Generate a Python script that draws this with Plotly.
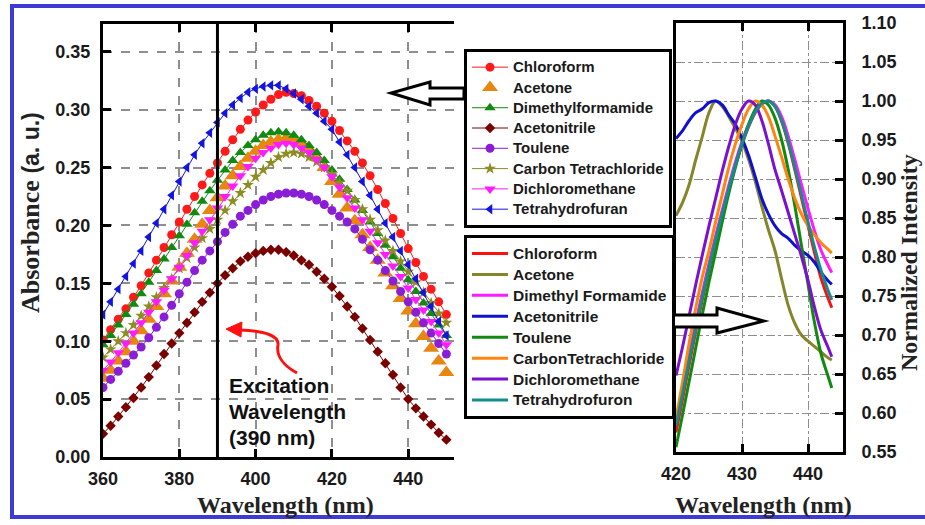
import plotly.graph_objects as go

# Canvas size in pixels; shapes and labels are placed with pixel helpers
W, H = 925, 525


def px(x):
    return x / W


def py(y):
    return 1 - y / H


ARIAL = "Liberation Sans, Arial, sans-serif"
TIMES = "Liberation Serif, Times New Roman, serif"

# ---------------- Absorbance spectra (left panel) ----------------
wavelength_abs = [360, 362, 364, 366, 368, 370, 372, 374, 376, 378,
                  380, 382, 384, 386, 388, 390, 392, 394, 396, 398,
                  400, 402, 404, 406, 408, 410, 412, 414, 416, 418,
                  420, 422, 424, 426, 428, 430, 432, 434, 436, 438,
                  440, 442, 444, 446, 448, 450]

abs_chloroform = [0.101, 0.110, 0.119, 0.128, 0.138, 0.148, 0.159, 0.170, 0.181, 0.192,
                  0.203, 0.214, 0.225, 0.235, 0.245, 0.254, 0.264, 0.274, 0.283, 0.291,
                  0.298, 0.304, 0.309, 0.313, 0.315, 0.314, 0.312, 0.308, 0.303, 0.297,
                  0.290, 0.282, 0.273, 0.264, 0.254, 0.243, 0.231, 0.219, 0.206, 0.193,
                  0.180, 0.168, 0.156, 0.145, 0.134, 0.123]
abs_acetone = [0.068, 0.075, 0.083, 0.091, 0.100, 0.109, 0.119, 0.130, 0.141, 0.152,
               0.164, 0.176, 0.188, 0.201, 0.213, 0.224, 0.234, 0.243, 0.251, 0.258,
               0.264, 0.269, 0.272, 0.274, 0.275, 0.274, 0.271, 0.266, 0.259, 0.250,
               0.238, 0.227, 0.215, 0.204, 0.192, 0.181, 0.170, 0.159, 0.148, 0.137,
               0.126, 0.115, 0.104, 0.094, 0.083, 0.073]
abs_dmf = [0.097, 0.105, 0.114, 0.123, 0.132, 0.141, 0.151, 0.161, 0.171, 0.181,
           0.191, 0.201, 0.211, 0.221, 0.230, 0.239, 0.248, 0.256, 0.263, 0.269,
           0.274, 0.278, 0.280, 0.281, 0.280, 0.278, 0.274, 0.269, 0.263, 0.256,
           0.248, 0.240, 0.231, 0.222, 0.213, 0.203, 0.193, 0.183, 0.173, 0.163,
           0.153, 0.143, 0.133, 0.124, 0.114, 0.105]
abs_acetonitrile = [0.020, 0.027, 0.035, 0.043, 0.051, 0.060, 0.069, 0.079, 0.089, 0.098,
                    0.107, 0.116, 0.125, 0.134, 0.142, 0.150, 0.157, 0.163, 0.169, 0.173,
                    0.176, 0.178, 0.179, 0.179, 0.177, 0.174, 0.170, 0.166, 0.160, 0.154,
                    0.147, 0.139, 0.130, 0.121, 0.111, 0.101, 0.091, 0.081, 0.071, 0.060,
                    0.050, 0.042, 0.035, 0.028, 0.021, 0.015]
abs_toulene = [0.060, 0.067, 0.074, 0.081, 0.088, 0.095, 0.103, 0.112, 0.121, 0.131,
               0.141, 0.151, 0.161, 0.170, 0.178, 0.186, 0.194, 0.201, 0.208, 0.213,
               0.218, 0.222, 0.225, 0.227, 0.228, 0.228, 0.227, 0.225, 0.222, 0.218,
               0.213, 0.208, 0.203, 0.197, 0.188, 0.179, 0.170, 0.161, 0.152, 0.143,
               0.134, 0.125, 0.116, 0.107, 0.098, 0.089]
abs_ccl4 = [0.086, 0.093, 0.100, 0.107, 0.114, 0.122, 0.130, 0.138, 0.146, 0.154,
            0.163, 0.172, 0.181, 0.189, 0.197, 0.205, 0.213, 0.221, 0.228, 0.235,
            0.242, 0.248, 0.254, 0.259, 0.262, 0.263, 0.262, 0.259, 0.255, 0.250,
            0.244, 0.237, 0.230, 0.222, 0.214, 0.205, 0.196, 0.187, 0.178, 0.169,
            0.160, 0.151, 0.142, 0.133, 0.124, 0.116]
abs_dcm = [0.075, 0.082, 0.090, 0.098, 0.107, 0.116, 0.125, 0.134, 0.144, 0.154,
           0.164, 0.174, 0.185, 0.195, 0.205, 0.215, 0.225, 0.234, 0.243, 0.251,
           0.258, 0.263, 0.267, 0.270, 0.271, 0.270, 0.267, 0.263, 0.257, 0.250,
           0.242, 0.233, 0.224, 0.215, 0.205, 0.195, 0.185, 0.175, 0.165, 0.156,
           0.146, 0.136, 0.127, 0.117, 0.107, 0.097]
abs_thf = [0.123, 0.134, 0.145, 0.156, 0.167, 0.178, 0.190, 0.202, 0.214, 0.226,
           0.238, 0.250, 0.261, 0.271, 0.280, 0.289, 0.297, 0.304, 0.310, 0.315,
           0.318, 0.320, 0.321, 0.321, 0.318, 0.314, 0.309, 0.303, 0.297, 0.290,
           0.283, 0.272, 0.261, 0.250, 0.238, 0.226, 0.214, 0.202, 0.190, 0.178,
           0.166, 0.154, 0.142, 0.130, 0.117, 0.105]

abs_names = ["Chloroform", "Acetone", "Dimethylformamide", "Acetonitrile",
             "Toulene", "Carbon Tetrachloride", "Dichloromethane", "Tetrahydrofuran"]
abs_values = [abs_chloroform, abs_acetone, abs_dmf, abs_acetonitrile,
              abs_toulene, abs_ccl4, abs_dcm, abs_thf]
abs_colors = ["#ff1a1a", "#e8870f", "#128a12", "#7a0000",
              "#8a1ed6", "#8c8c22", "#ff1aff", "#1414e0"]
abs_symbols = ["circle", "triangle-up", "triangle-up", "diamond",
               "circle", "star", "triangle-down", "triangle-left"]
abs_sizes = [9, 14, 10, 8, 9, 9, 10, 9]
abs_modes = ["lines+markers", "markers", "lines+markers", "lines+markers",
             "lines+markers", "lines+markers", "lines+markers", "lines+markers"]

# ---------------- Normalised emission spectra (right panel) ----------------
wavelength_pl = [420, 421, 422, 423, 424, 425, 426, 427, 428, 429,
                 430, 431, 432, 433, 434, 435, 436, 437, 438, 439,
                 440, 441, 442, 443, 443.6]

pl_chloroform = [0.575, 0.618, 0.662, 0.705, 0.746, 0.784, 0.820, 0.854, 0.887, 0.917,
                 0.944, 0.967, 0.985, 0.996, 1.000, 0.993, 0.974, 0.946, 0.912, 0.876,
                 0.840, 0.805, 0.772, 0.748, 0.735]
pl_acetone = [0.853, 0.870, 0.893, 0.925, 0.955, 0.985, 1.000, 0.993, 0.980, 0.965,
              0.948, 0.925, 0.897, 0.865, 0.835, 0.808, 0.772, 0.738, 0.715, 0.700,
              0.692, 0.685, 0.678, 0.671, 0.668]
pl_dmf = [0.590, 0.632, 0.675, 0.716, 0.755, 0.792, 0.827, 0.860, 0.892, 0.922,
          0.948, 0.970, 0.987, 0.997, 1.000, 0.995, 0.980, 0.955, 0.925, 0.893,
          0.862, 0.833, 0.808, 0.790, 0.780]
pl_acetonitrile = [0.952, 0.962, 0.975, 0.985, 0.990, 0.998, 1.000, 0.995, 0.982, 0.970,
                   0.952, 0.930, 0.903, 0.875, 0.855, 0.840, 0.830, 0.824, 0.815, 0.808,
                   0.802, 0.793, 0.780, 0.770, 0.765]
pl_toulene = [0.556, 0.598, 0.641, 0.684, 0.727, 0.768, 0.806, 0.845, 0.882, 0.915,
              0.945, 0.970, 0.989, 1.000, 0.995, 0.978, 0.950, 0.912, 0.866, 0.815,
              0.765, 0.715, 0.675, 0.648, 0.632]
pl_ccl4 = [0.593, 0.640, 0.690, 0.735, 0.775, 0.808, 0.845, 0.880, 0.915, 0.945,
           0.970, 0.990, 1.000, 0.995, 0.980, 0.955, 0.928, 0.900, 0.875, 0.855,
           0.840, 0.828, 0.818, 0.810, 0.805]
pl_dcm = [0.648, 0.685, 0.725, 0.765, 0.803, 0.840, 0.875, 0.910, 0.942, 0.970,
          0.990, 1.000, 0.995, 0.975, 0.945, 0.912, 0.885, 0.857, 0.829, 0.801,
          0.770, 0.735, 0.705, 0.685, 0.672]
pl_thf = [0.584, 0.625, 0.668, 0.710, 0.750, 0.787, 0.822, 0.856, 0.888, 0.918,
          0.945, 0.968, 0.986, 0.997, 1.000, 0.993, 0.975, 0.948, 0.915, 0.880,
          0.845, 0.812, 0.782, 0.758, 0.745]

pl_names = ["Chloroform", "Acetone", "Dimethyl Formamide", "Acetonitrile",
            "Toulene", "CarbonTetrachloride", "Dichloromethane", "Tetrahydrofuron"]
pl_values = [pl_chloroform, pl_acetone, pl_dmf, pl_acetonitrile,
             pl_toulene, pl_ccl4, pl_dcm, pl_thf]
pl_colors = ["#ff1010", "#85852a", "#ff1aff", "#1010d0",
             "#108a10", "#ff8410", "#7a10d0", "#148c8c"]

# Tick values
abs_xticks = [360, 380, 400, 420, 440]
abs_yticks = [0.00, 0.05, 0.10, 0.15, 0.20, 0.25, 0.30, 0.35]
pl_xticks = [420, 430, 440]
pl_yticks = [0.55, 0.60, 0.65, 0.70, 0.75, 0.80, 0.85, 0.90, 0.95, 1.00, 1.05, 1.10]

EXCITATION_NM = 390

fig = go.Figure()


def legend_label(text, size):
    return f"<span style='font-size:{size}px'>{text}</span>"


for name, vals, col, sym, size, mode in zip(abs_names, abs_values, abs_colors,
                                             abs_symbols, abs_sizes, abs_modes):
    fig.add_trace(go.Scatter(
        x=wavelength_abs, y=vals, mode=mode, name=legend_label(name, 15),
        line=dict(color=col, width=1),
        marker=dict(symbol=sym, size=size, color=col, line=dict(width=0)),
        xaxis="x", yaxis="y", legend="legend",
    ))

for name, vals, col in zip(pl_names, pl_values, pl_colors):
    fig.add_trace(go.Scatter(
        x=wavelength_pl, y=vals, mode="lines", name=legend_label(name, 15.5),
        line=dict(color=col, width=3, shape="spline"),
        xaxis="x2", yaxis="y2", legend="legend2",
    ))

tickfont = dict(family=ARIAL, size=18, color="#1a1a1a", weight="bold")
axis_common = dict(
    showline=True, linecolor="black", linewidth=3,
    ticks="inside", ticklen=8, tickwidth=2.5, tickcolor="black",
    showgrid=True, gridcolor="#8e8e8e", gridwidth=1.5, griddash="dash",
    zeroline=False, tickfont=tickfont, automargin=False,
)

legend_common = dict(
    xanchor="left", yanchor="top", bgcolor="white",
    bordercolor="black", borderwidth=3, itemwidth=36,
    tracegroupgap=0, itemclick=False,
)

fig.update_layout(
    width=W, height=H, autosize=False,
    margin=dict(l=0, r=0, t=0, b=0, pad=0, autoexpand=False),
    paper_bgcolor="white", plot_bgcolor="white",
    xaxis=dict(axis_common, domain=[px(103), px(454)], range=[360, 452],
               tickvals=abs_xticks, mirror="ticks", anchor="y",
               ticklabelstandoff=3),
    yaxis=dict(axis_common, domain=[py(457), py(24)], range=[0, 0.374],
               tickvals=abs_yticks, tickformat=".2f", mirror=False, anchor="x",
               ticklabelstandoff=6),
    xaxis2=dict(axis_common, domain=[px(676), px(843)], range=[420, 445.3],
                tickvals=pl_xticks, mirror="ticks", anchor="y2",
                griddash="dashdot", gridwidth=1, ticklabelstandoff=3),
    yaxis2=dict(axis_common, domain=[py(452), py(23)], range=[0.55, 1.10],
                tickvals=pl_yticks, tickformat=".2f", side="right", mirror=True,
                anchor="x2", griddash="dashdot", gridwidth=1, ticklabelstandoff=12),
    legend=dict(legend_common, x=px(464), y=py(49),
                font=dict(family=ARIAL, size=13.3, color="#1a1a1a", weight="bold")),
    legend2=dict(legend_common, x=px(464), y=py(235),
                 font=dict(family=ARIAL, size=13.8, color="#1a1a1a", weight="bold")),
    showlegend=True,
)


def path(points, close=True):
    d = "M " + " L ".join(f"{px(x):.5f},{py(y):.5f}" for x, y in points)
    return d + (" Z" if close else "")


shapes = []
# outer frame
shapes.append(dict(type="rect", xref="paper", yref="paper",
                   x0=px(12), y0=py(517), x1=px(940), y1=py(6),
                   line=dict(color="#3c3cd4", width=4), fillcolor="rgba(0,0,0,0)",
                   layer="above"))
# excitation wavelength marker
shapes.append(dict(type="line", xref="x", yref="y domain",
                   x0=EXCITATION_NM, x1=EXCITATION_NM, y0=0, y1=1,
                   line=dict(color="black", width=3)))
# hollow arrow pointing from the absorbance legend to the left panel
shapes.append(dict(type="path", xref="paper", yref="paper",
                   path=path([(464, 88), (430, 88), (430, 82), (391, 93),
                              (430, 105), (430, 99), (464, 99)]),
                   line=dict(color="black", width=3), fillcolor="white"))
# hollow arrow pointing from the emission legend to the right panel
shapes.append(dict(type="path", xref="paper", yref="paper",
                   path=path([(671, 315), (717, 315), (717, 308), (764, 321),
                              (717, 333), (717, 327), (671, 327)]),
                   line=dict(color="black", width=3), fillcolor="white"))
# red curved pointer towards the excitation line
shapes.append(dict(type="path", xref="paper", yref="paper",
                   path=(f"M {px(297):.5f},{py(373):.5f} "
                         f"C {px(284):.5f},{py(366):.5f} {px(276):.5f},{py(356):.5f} {px(278):.5f},{py(345):.5f} "
                         f"C {px(279):.5f},{py(336):.5f} {px(266):.5f},{py(331):.5f} {px(240):.5f},{py(330):.5f}"),
                   line=dict(color="#ff1010", width=3), fillcolor="rgba(0,0,0,0)"))
shapes.append(dict(type="path", xref="paper", yref="paper",
                   path=path([(226, 329), (242, 322), (241, 337)]),
                   line=dict(color="#ff1010", width=1), fillcolor="#ff1010"))
fig.update_layout(shapes=shapes)

annotations = []
for i, line in enumerate(["Excitation", "Wavelength", "(390 nm)"]):
    annotations.append(dict(xref="paper", yref="paper", x=px(227), y=py(385 + 26 * i),
                            xanchor="left", yanchor="middle", showarrow=False,
                            text=line,
                            font=dict(family=ARIAL, size=21, color="#111", weight="bold")))
annotations.append(dict(xref="paper", yref="paper", x=px(285), y=py(505),
                        xanchor="center", yanchor="middle", showarrow=False,
                        text="Wavelength (nm)",
                        font=dict(family=TIMES, size=24, color="#222", weight="bold")))
annotations.append(dict(xref="paper", yref="paper", x=px(763), y=py(505),
                        xanchor="center", yanchor="middle", showarrow=False,
                        text="Wavelength (nm)",
                        font=dict(family=TIMES, size=24, color="#222", weight="bold")))
annotations.append(dict(xref="paper", yref="paper", x=px(30), y=py(213),
                        xanchor="center", yanchor="middle", showarrow=False,
                        textangle=-90,
                        text=("Absorbance <span style='font-family:Liberation Sans, Arial, sans-serif;"
                              "font-size:23px'>(a. u.)</span>"),
                        font=dict(family=TIMES, size=26, color="#222", weight="bold")))
annotations.append(dict(xref="paper", yref="paper", x=px(909), y=py(263),
                        xanchor="center", yanchor="middle", showarrow=False,
                        textangle=-90, text="Normalized Intensity",
                        font=dict(family=TIMES, size=24, color="#222", weight="bold")))
fig.update_layout(annotations=annotations)

fig.write_html("out.html")
